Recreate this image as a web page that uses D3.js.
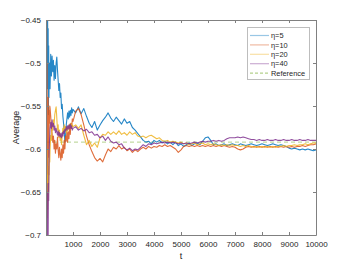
<!DOCTYPE html>
<html><head><meta charset="utf-8">
<script src="https://cdn.jsdelivr.net/npm/d3@7"></script>
<style>
html,body{margin:0;padding:0;background:#fff;}
svg{display:block;font-family:"Liberation Sans",Arial,sans-serif;}
</style></head>
<body><svg id="c" width="350" height="263"></svg>
<script>
// sample times
const tEarly = d3.range(0, 141, 10);
const tMid = d3.range(150, 1001, 25);
const tLate = d3.range(1100, 10001, 100);
const T = tEarly.concat(tMid, tLate);

const seriesNames = ["\u03b7=5","\u03b7=10","\u03b7=20","\u03b7=40"];
const referenceValue = -0.592;
const xTicks = [1000,2000,3000,4000,5000,6000,7000,8000,9000,10000];
const yTicks = [-0.7,-0.65,-0.6,-0.55,-0.5,-0.45];

const eta5 = [
-0.38,-0.47,-0.41,-0.50,-0.44,-0.53,-0.45,-0.51,-0.46,-0.56,-0.48,-0.54,-0.50,-0.53,-0.50,
-0.53,-0.49,-0.515,-0.492,-0.51,-0.497,
-0.52,-0.503,-0.518,-0.50,-0.493,-0.508,-0.52,-0.532,-0.524,-0.54,
-0.535,-0.553,-0.548,-0.562,-0.57,-0.58,-0.592,-0.584,-0.572,-0.565,
-0.558,-0.565,-0.556,-0.563,-0.555,-0.561,-0.552,-0.558,-0.554,
-0.558,-0.551,-0.559,-0.553,-0.562,-0.570,-0.575,-0.568,-0.578,-0.572,
-0.567,-0.563,-0.558,-0.564,-0.568,-0.563,-0.567,-0.571,-0.565,-0.570,
-0.568,-0.575,-0.578,-0.582,-0.586,-0.590,-0.592,-0.591,-0.594,-0.590,
-0.592,-0.590,-0.593,-0.591,-0.594,-0.592,-0.595,-0.592,-0.596,-0.594,
-0.597,-0.595,-0.593,-0.596,-0.594,-0.593,-0.595,-0.591,-0.587,-0.586,
-0.590,-0.595,-0.594,-0.596,-0.595,-0.594,-0.596,-0.595,-0.594,-0.595,
-0.596,-0.594,-0.595,-0.596,-0.595,-0.594,-0.595,-0.596,-0.595,-0.594,
-0.595,-0.596,-0.595,-0.594,-0.595,-0.596,-0.595,-0.596,-0.597,-0.599,
-0.600,-0.599,-0.600,-0.601,-0.600,-0.601,-0.600,-0.601,-0.602,-0.601
];
const eta10 = [
-0.40,-0.52,-0.45,-0.62,-0.50,-0.66,-0.55,-0.63,-0.54,-0.61,-0.56,-0.60,-0.555,-0.57,-0.55,
-0.552,-0.562,-0.575,-0.582,-0.592,-0.585,
-0.600,-0.590,-0.605,-0.594,-0.600,-0.586,-0.601,-0.610,-0.598,-0.606,
-0.613,-0.600,-0.610,-0.595,-0.605,-0.590,-0.600,-0.585,-0.591,-0.580,
-0.592,-0.580,-0.588,-0.575,-0.583,-0.570,-0.576,-0.565,-0.568,
-0.556,-0.553,-0.560,-0.572,-0.585,-0.595,-0.603,-0.610,-0.614,-0.611,
-0.615,-0.607,-0.600,-0.603,-0.598,-0.600,-0.596,-0.600,-0.598,-0.602,
-0.600,-0.604,-0.601,-0.603,-0.600,-0.598,-0.600,-0.597,-0.599,-0.597,
-0.598,-0.596,-0.597,-0.595,-0.597,-0.596,-0.598,-0.600,-0.604,-0.601,
-0.597,-0.596,-0.597,-0.596,-0.597,-0.596,-0.597,-0.596,-0.597,-0.596,
-0.597,-0.596,-0.597,-0.596,-0.597,-0.596,-0.597,-0.598,-0.597,-0.598,
-0.600,-0.601,-0.600,-0.598,-0.597,-0.598,-0.597,-0.598,-0.597,-0.598,
-0.597,-0.598,-0.597,-0.598,-0.597,-0.598,-0.597,-0.598,-0.597,-0.598,
-0.597,-0.598,-0.597,-0.597,-0.596,-0.597,-0.596,-0.595,-0.595,-0.594
];
const eta20 = [
-0.72,-0.62,-0.70,-0.60,-0.68,-0.63,-0.67,-0.64,-0.66,-0.62,-0.65,-0.61,-0.63,-0.60,-0.615,
-0.601,-0.584,-0.590,-0.572,-0.578,-0.566,
-0.572,-0.560,-0.555,-0.551,-0.564,-0.578,-0.572,-0.587,-0.578,-0.590,
-0.584,-0.595,-0.584,-0.576,-0.581,-0.572,-0.578,-0.574,-0.581,-0.575,
-0.579,-0.573,-0.576,-0.571,-0.574,-0.570,-0.575,-0.572,-0.574,
-0.572,-0.576,-0.572,-0.584,-0.595,-0.590,-0.597,-0.593,-0.598,-0.587,
-0.583,-0.584,-0.580,-0.583,-0.580,-0.583,-0.579,-0.583,-0.581,-0.584,
-0.580,-0.583,-0.581,-0.585,-0.586,-0.585,-0.587,-0.585,-0.584,-0.586,
-0.588,-0.587,-0.590,-0.591,-0.590,-0.592,-0.591,-0.592,-0.593,-0.592,
-0.594,-0.593,-0.595,-0.594,-0.593,-0.595,-0.594,-0.593,-0.595,-0.594,
-0.595,-0.594,-0.595,-0.596,-0.595,-0.596,-0.595,-0.596,-0.595,-0.596,
-0.596,-0.597,-0.596,-0.597,-0.596,-0.597,-0.598,-0.597,-0.598,-0.597,
-0.598,-0.597,-0.598,-0.597,-0.598,-0.597,-0.597,-0.596,-0.597,-0.596,
-0.596,-0.595,-0.596,-0.595,-0.595,-0.594,-0.595,-0.594,-0.593,-0.593
];
const eta40 = [
-0.74,-0.66,-0.73,-0.64,-0.72,-0.66,-0.71,-0.65,-0.70,-0.64,-0.66,-0.62,-0.60,-0.59,-0.585,
-0.576,-0.569,-0.576,-0.566,-0.574,-0.570,
-0.578,-0.573,-0.581,-0.576,-0.580,-0.584,-0.579,-0.585,-0.581,-0.586,
-0.582,-0.587,-0.581,-0.585,-0.579,-0.582,-0.577,-0.579,-0.574,-0.578,
-0.573,-0.577,-0.572,-0.576,-0.571,-0.576,-0.573,-0.578,-0.576,
-0.574,-0.578,-0.576,-0.579,-0.577,-0.581,-0.580,-0.584,-0.583,-0.587,
-0.585,-0.590,-0.586,-0.591,-0.593,-0.592,-0.595,-0.594,-0.599,-0.601,
-0.599,-0.602,-0.600,-0.601,-0.598,-0.595,-0.597,-0.594,-0.595,-0.593,
-0.594,-0.593,-0.592,-0.593,-0.592,-0.593,-0.592,-0.593,-0.594,-0.593,
-0.594,-0.593,-0.594,-0.593,-0.592,-0.593,-0.592,-0.591,-0.592,-0.591,
-0.591,-0.590,-0.591,-0.590,-0.591,-0.590,-0.588,-0.587,-0.587,-0.587,
-0.586,-0.587,-0.586,-0.587,-0.588,-0.589,-0.589,-0.590,-0.589,-0.590,
-0.590,-0.589,-0.590,-0.590,-0.589,-0.590,-0.590,-0.589,-0.590,-0.590,
-0.589,-0.590,-0.590,-0.589,-0.590,-0.590,-0.589,-0.590,-0.590,-0.590
];
const seriesValues = [eta5, eta10, eta20, eta40];
const colors = ["#0072BD","#D95319","#EDB120","#7E2F8E"];
const refColor = "#77AC30";

const svg = d3.select("#c");
const L = 46, R = 316, Tp = 20, B = 235;
const x = d3.scaleLinear().domain([0,10000]).range([L,R]);
const y = d3.scaleLinear().domain([-0.7,-0.45]).range([B,Tp]);

svg.append("defs").append("clipPath").attr("id","clip")
  .append("rect").attr("x",L).attr("y",Tp).attr("width",R-L).attr("height",B-Tp);

const plot = svg.append("g").attr("clip-path","url(#clip)");
const line = d3.line().x((d,i)=>x(T[i])).y(d=>y(d));

plot.append("line")
  .attr("x1",x(0)).attr("x2",x(10000))
  .attr("y1",y(referenceValue)).attr("y2",y(referenceValue))
  .attr("stroke",refColor).attr("stroke-opacity",0.55)
  .attr("stroke-width",1).attr("stroke-dasharray","4,3");

seriesValues.forEach((vals,k)=>{
  plot.append("path").datum(vals)
    .attr("d",line).attr("fill","none")
    .attr("stroke",colors[k]).attr("stroke-width",1.1)
    .attr("stroke-opacity",0.85).attr("stroke-linejoin","round");
});

const axisColor = "#808080";
const textColor = "#262626";
const xAxisB = d3.axisBottom(x).tickValues(xTicks).tickSizeInner(-3).tickSizeOuter(0).tickPadding(6).tickFormat(d3.format("d"));
const xAxisT = d3.axisTop(x).tickValues(xTicks).tickSizeInner(-3).tickSizeOuter(0).tickFormat("");
const yAxisL = d3.axisLeft(y).tickValues(yTicks).tickSizeInner(-3).tickSizeOuter(0).tickPadding(5).tickFormat(d=>d3.format("")(+d.toFixed(2)));
const yAxisR = d3.axisRight(y).tickValues(yTicks).tickSizeInner(-3).tickSizeOuter(0).tickFormat("");

function style(g){
  g.selectAll("path.domain").attr("stroke",axisColor);
  g.selectAll(".tick line").attr("stroke",axisColor);
  g.selectAll("text").attr("fill",textColor).attr("font-size","8px")
   .attr("font-family","Liberation Sans, Arial, sans-serif");
}
svg.append("g").attr("transform",`translate(0,${B})`).call(xAxisB).call(style);
svg.append("g").attr("transform",`translate(0,${Tp})`).call(xAxisT).call(style);
svg.append("g").attr("transform",`translate(${L},0)`).call(yAxisL).call(style);
svg.append("g").attr("transform",`translate(${R},0)`).call(yAxisR).call(style);

svg.append("text").attr("x",(L+R)/2).attr("y",259).attr("text-anchor","middle")
  .attr("font-size","9px").attr("fill",textColor).text("t");
svg.append("text").attr("transform",`translate(19,${(Tp+B)/2}) rotate(-90)`)
  .attr("text-anchor","middle").attr("font-size","9px").attr("fill",textColor).text("Average");

// legend
const lg = svg.append("g");
lg.append("rect").attr("x",247.5).attr("y",27.5).attr("width",62).attr("height",52)
  .attr("fill","#fff").attr("stroke","#bdbdbd").attr("stroke-width",1);
const entries = seriesNames.map((n,k)=>({name:n,color:colors[k],dash:null,op:0.4}))
  .concat([{name:"Reference",color:refColor,dash:"3,2",op:0.55}]);
entries.forEach((e,k)=>{
  const yy = 35.5 + k*9.4;
  lg.append("line").attr("x1",250).attr("x2",269).attr("y1",yy).attr("y2",yy)
    .attr("stroke",e.color).attr("stroke-opacity",e.op).attr("stroke-width",1.2)
    .attr("stroke-dasharray",e.dash);
  lg.append("text").attr("x",271).attr("y",yy+2.6).attr("font-size","7.4px")
    .attr("fill",textColor).text(e.name);
});
</script></body></html>
